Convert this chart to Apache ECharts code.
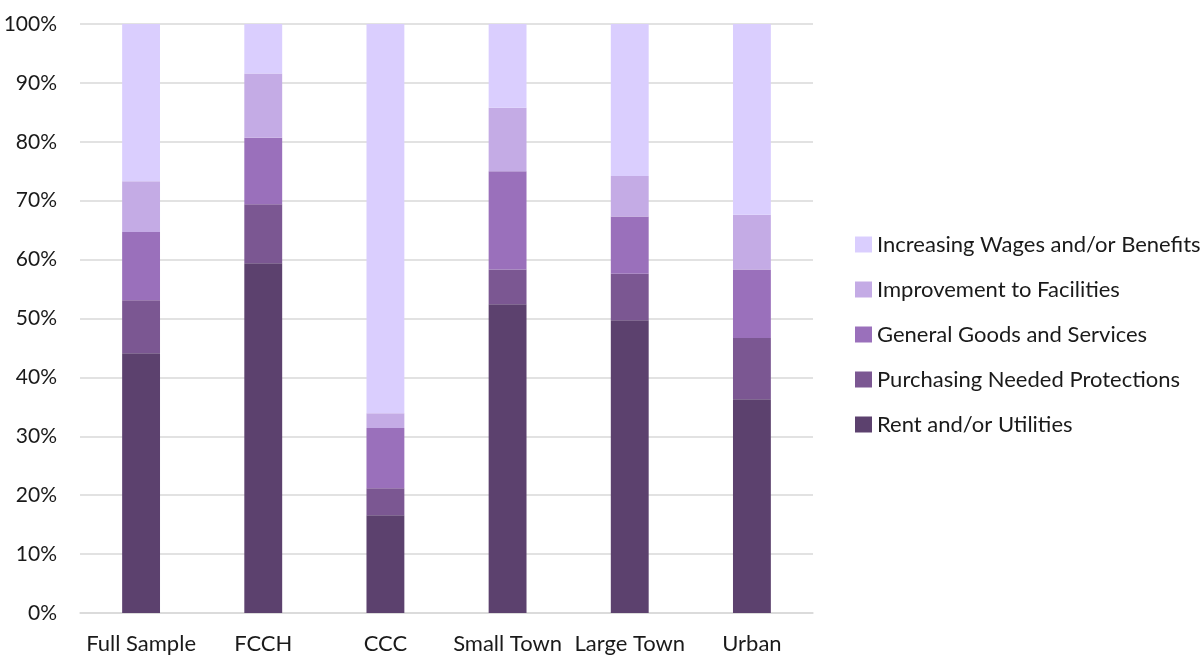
<!DOCTYPE html>
<html>
<head>
<meta charset="utf-8">
<script src="https://cdn.jsdelivr.net/npm/echarts@6/dist/echarts.min.js"></script>
<style>
html,body{margin:0;padding:0;background:#fff;}
#chart{width:1204px;height:655px;}
</style>
</head>
<body>
<div id="chart"></div>
<script>
var categories = ['Full Sample', 'FCCH', 'CCC', 'Small Town', 'Large Town', 'Urban'];
var rentUtilities = [44.1, 59.4, 16.6, 52.4, 49.7, 36.3];
var protections = [9.0, 10.0, 4.6, 5.9, 7.9, 10.4];
var goodsServices = [11.6, 11.3, 10.2, 16.7, 9.7, 11.6];
var facilities = [8.6, 10.9, 2.5, 10.8, 6.9, 9.3];
var wagesBenefits = [26.7, 8.4, 66.1, 14.2, 25.8, 32.4];
var seriesNames = ['Rent and/or Utilities', 'Purchasing Needed Protections', 'General Goods and Services', 'Improvement to Facilities', 'Increasing Wages and/or Benefits'];
var seriesColors = ['#5C416E', '#7B5792', '#9A70BB', '#C4ABE5', '#DACEFE'];
var seriesData = [rentUtilities, protections, goodsServices, facilities, wagesBenefits];

var font = 'Lato, "Open Sans", sans-serif';
var chart = echarts.init(document.getElementById('chart'));
chart.setOption({
  animation: false,
  backgroundColor: '#fff',
  grid: {left: 80, right: 391, top: 24, bottom: 41},
  legend: {
    orient: 'vertical',
    left: 850,
    top: 226,
    itemWidth: 17,
    itemHeight: 16,
    itemGap: 18,
    icon: 'rect',
    data: seriesNames.slice().reverse(),
    textStyle: {fontFamily: font, fontSize: 22, color: '#1a1a1a', lineHeight: 27}
  },
  xAxis: {
    type: 'category',
    data: categories,
    axisLine: {lineStyle: {color: '#d9d9d9', width: 1.5}},
    axisTick: {show: false},
    axisLabel: {fontFamily: font, fontSize: 22, color: '#1a1a1a', margin: 20, interval: 0}
  },
  yAxis: {
    type: 'value',
    min: 0, max: 100, interval: 10,
    axisLine: {show: false},
    axisTick: {show: false},
    splitLine: {lineStyle: {color: '#d9d9d9', width: 1.5}},
    axisLabel: {fontFamily: font, fontSize: 21, color: '#1a1a1a', margin: 23, formatter: '{value}%'}
  },
  series: seriesNames.map(function (name, i) {
    return {
      name: name,
      type: 'bar',
      stack: 'total',
      barWidth: '31%',
      data: seriesData[i],
      itemStyle: {color: seriesColors[i]}
    };
  })
});
</script>
</body>
</html>
